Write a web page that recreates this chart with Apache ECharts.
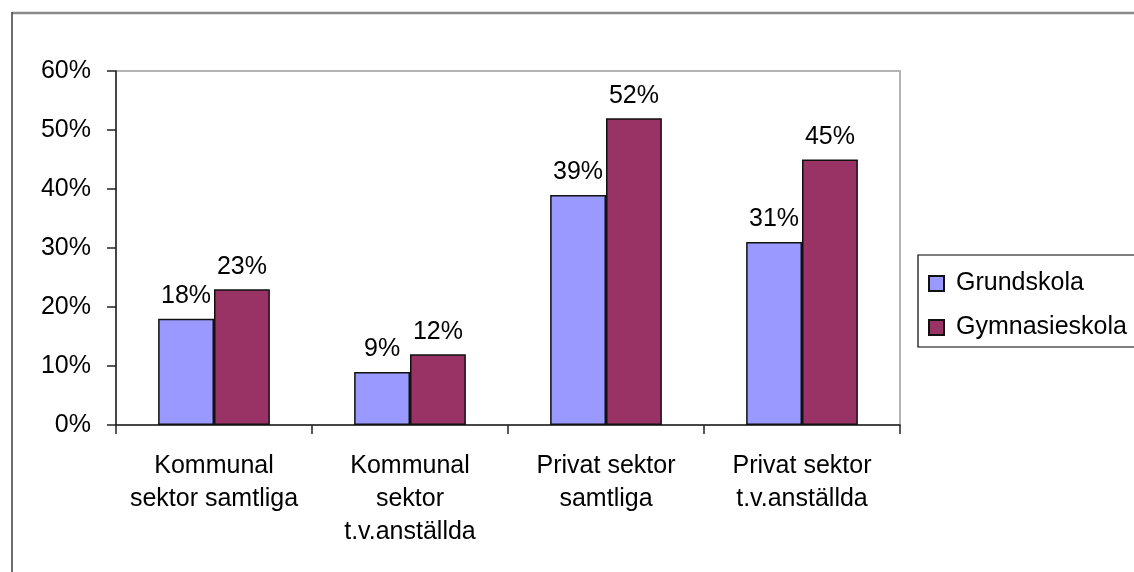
<!DOCTYPE html>
<html>
<head>
<meta charset="utf-8">
<script src="https://cdn.jsdelivr.net/npm/echarts@6/dist/echarts.min.js"></script>
<style>
  html, body { margin: 0; padding: 0; background: #ffffff; }
  #chart { width: 1134px; height: 572px; }
</style>
</head>
<body>
<div id="chart"></div>
<script>
// Share of staff per sector, by school type (percent)
const categories = [
  'Kommunal\nsektor samtliga',
  'Kommunal\nsektor\nt.v.anställda',
  'Privat sektor\nsamtliga',
  'Privat sektor\nt.v.anställda'
];
const grundskola = [18, 9, 39, 31];
const gymnasieskola = [23, 12, 52, 45];
const seriesNames = ['Grundskola', 'Gymnasieskola'];
const yTicks = { min: 0, max: 60, interval: 10 };

const FONT = '"Liberation Sans", Arial, sans-serif';
const FS = 25;

const chart = echarts.init(document.getElementById('chart'), null, { renderer: 'canvas' });

const labelStyle = {
  show: true,
  position: 'top',
  distance: 10,
  formatter: '{c}%',
  color: '#000',
  fontFamily: FONT,
  fontSize: FS
};

chart.setOption({
  backgroundColor: '#ffffff',
  animation: false,
  graphic: [
    // outer chart frame (top and left edges)
    { type: 'line', shape: { x1: 12, y1: 13, x2: 1134, y2: 13 }, style: { stroke: '#8a8a8a', lineWidth: 2.5 }, z: 10 },
    { type: 'line', shape: { x1: 12, y1: 12, x2: 12, y2: 572 }, style: { stroke: '#3c3c3c', lineWidth: 1.5 }, z: 10 }
  ],
  grid: {
    left: 116, right: 234, top: 71, bottom: 147,
    show: true,
    borderColor: '#b4b4b4',
    borderWidth: 2,
    backgroundColor: 'transparent'
  },
  legend: {
    orient: 'vertical',
    left: 918,
    top: 255,
    padding: [16, 12, 7, 10],
    itemGap: 19,
    itemWidth: 15,
    itemHeight: 15,
    borderColor: '#000',
    borderWidth: 1.2,
    borderRadius: 0,
    icon: 'rect',
    textStyle: {
      color: '#000',
      fontFamily: FONT,
      fontSize: FS,
      lineHeight: 25,
      padding: [0, 0, 0, 7]
    },
    data: seriesNames
  },
  xAxis: {
    type: 'category',
    data: categories,
    axisLine: { show: true, lineStyle: { color: '#222', width: 1.5 } },
    axisTick: { show: true, length: 9, lineStyle: { color: '#222', width: 1.5 } },
    axisLabel: {
      color: '#000',
      fontFamily: FONT,
      fontSize: FS,
      lineHeight: 33,
      margin: 25,
      interval: 0
    },
    splitLine: { show: false }
  },
  yAxis: {
    type: 'value',
    min: yTicks.min,
    max: yTicks.max,
    interval: yTicks.interval,
    axisLine: { show: true, lineStyle: { color: '#222', width: 1.5 } },
    axisTick: { show: true, length: 9, lineStyle: { color: '#222', width: 1.5 } },
    axisLabel: {
      formatter: '{value}%',
      color: '#000',
      fontFamily: FONT,
      fontSize: FS,
      margin: 25
    },
    splitLine: { show: false }
  },
  series: [
    {
      name: seriesNames[0],
      type: 'bar',
      data: grundskola,
      barGap: '0%',
      barCategoryGap: '43%',
      itemStyle: { color: '#9999ff', borderColor: '#111', borderWidth: 1.5 },
      label: labelStyle
    },
    {
      name: seriesNames[1],
      type: 'bar',
      data: gymnasieskola,
      barGap: '0%',
      barCategoryGap: '43%',
      itemStyle: { color: '#993366', borderColor: '#111', borderWidth: 1.5 },
      label: labelStyle
    }
  ]
});
</script>
</body>
</html>
